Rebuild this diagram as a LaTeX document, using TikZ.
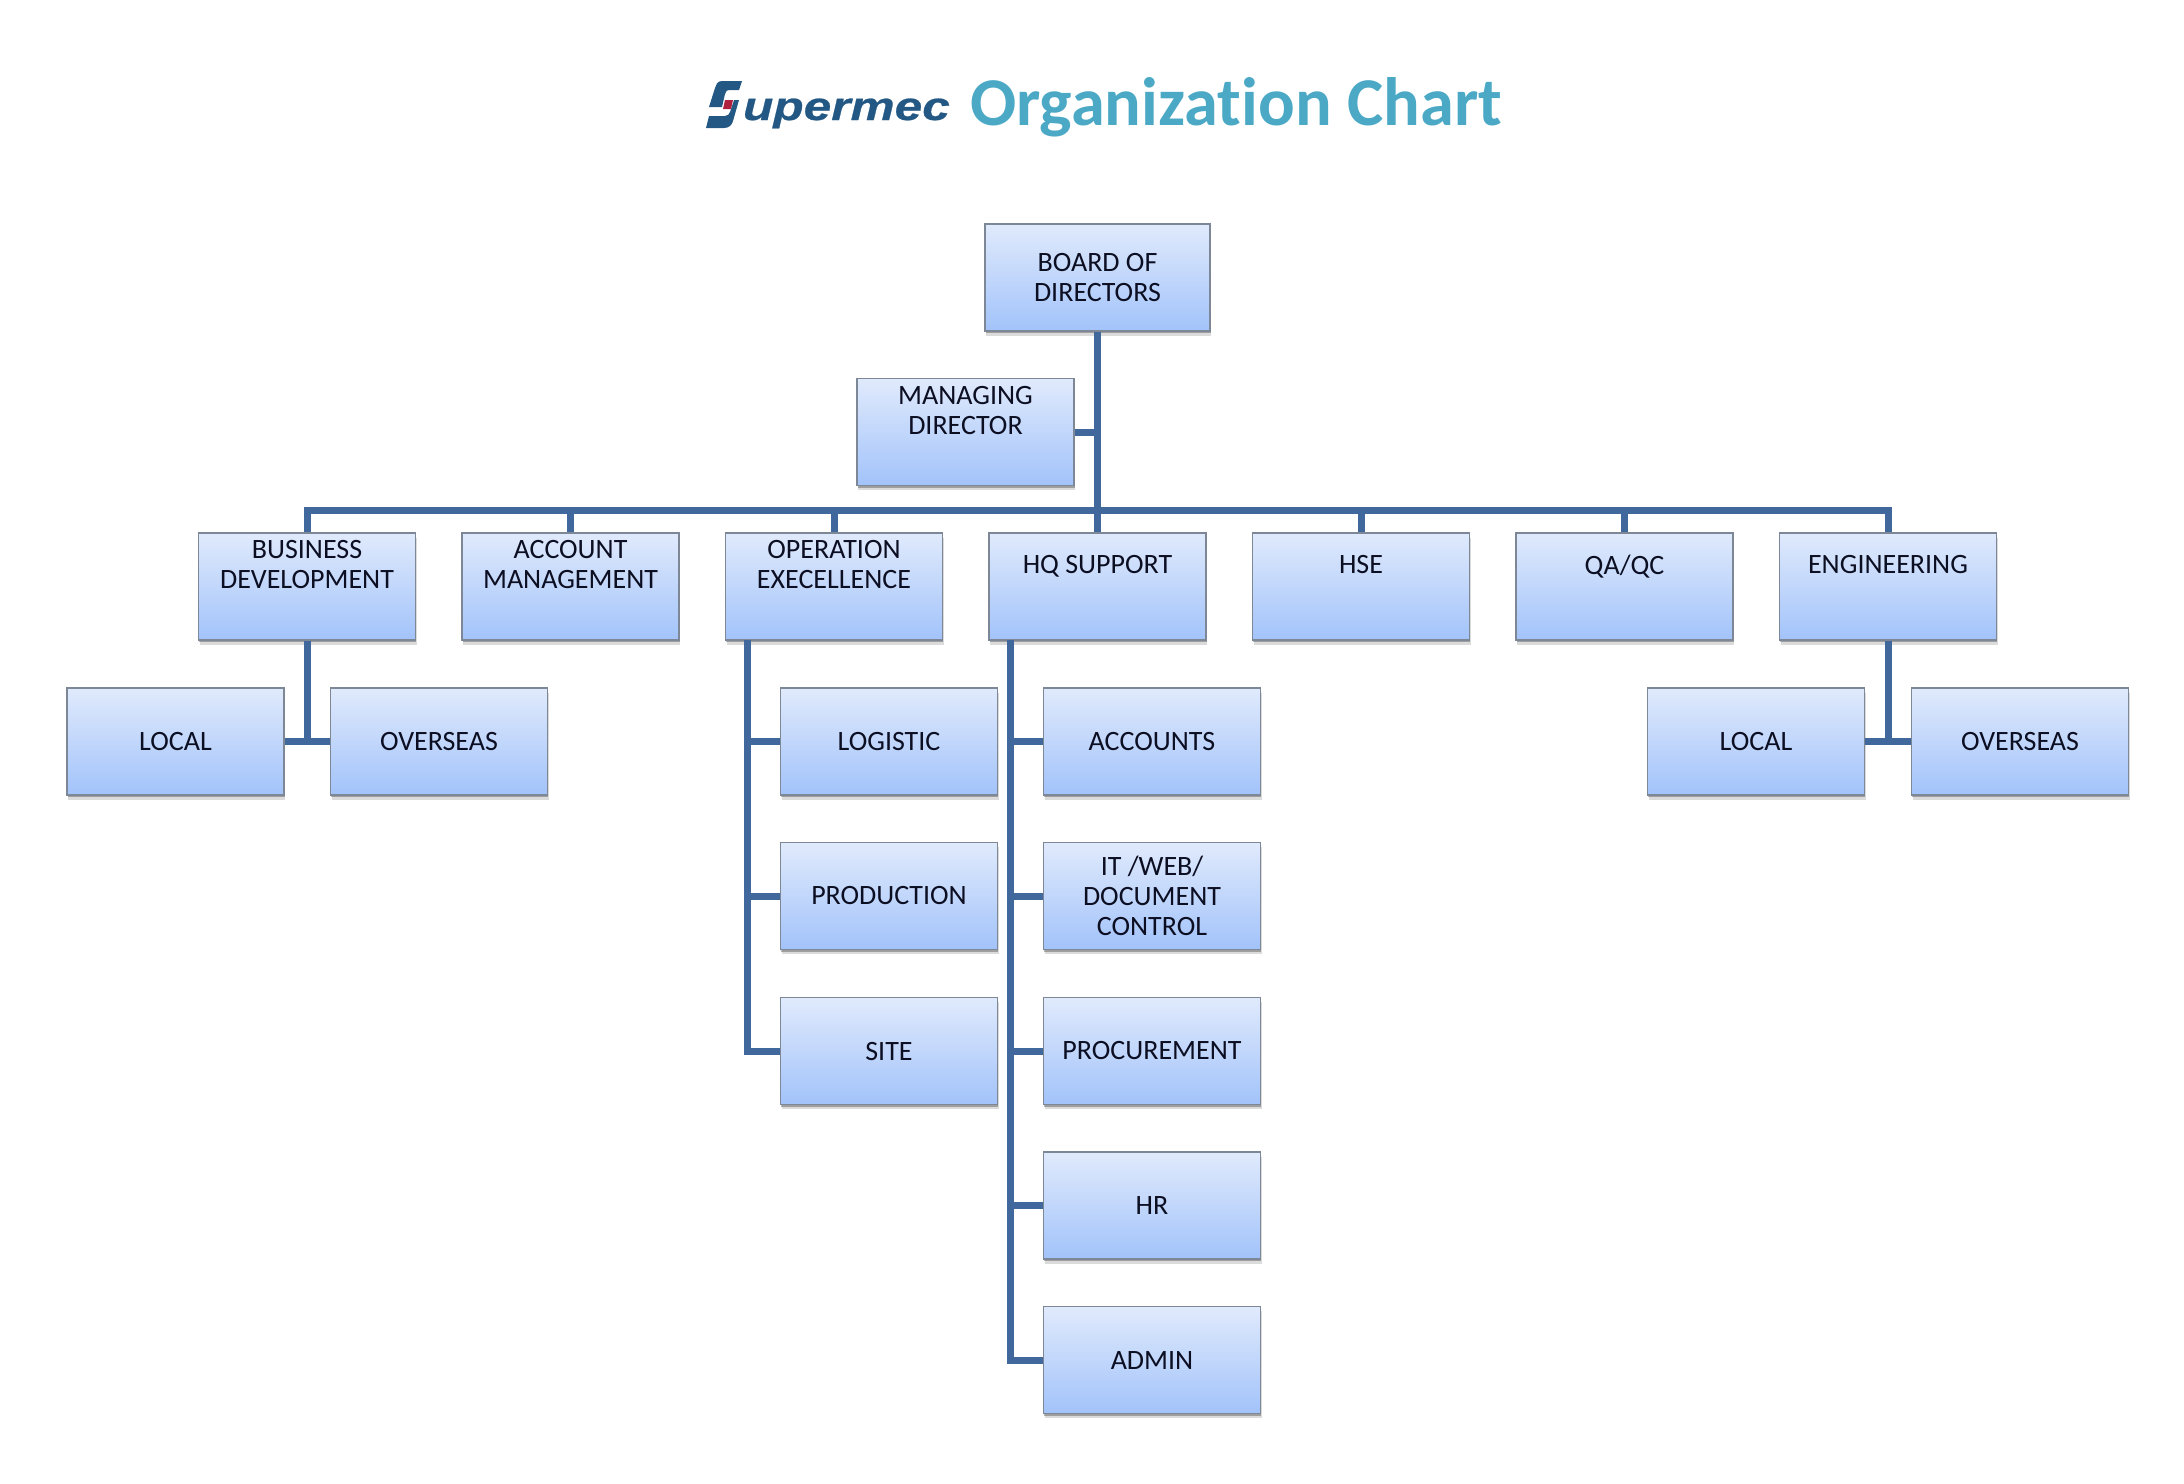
\documentclass[tikz,border=0pt]{standalone}
\usepackage{fontspec}
\setmainfont{Carlito}
\newfontfamily\logofont[FakeStretch=1.24,FakeBold=0.6]{Liberation Sans}
\usetikzlibrary{shadows}

\begin{document}
\begin{tikzpicture}[
    x=0.5pt, y=-0.5pt,
    every node/.style={font=\fontsize{14}{15}\selectfont, text=textdark},
    box/.style={
        rectangle,
        draw=edgegray,
        line width=0.6pt,
        top color=boxtop,
        bottom color=boxbottom,
        drop shadow={shadow xshift=0.5pt, shadow yshift=-2.4pt, opacity=0.14, fill=black},
        drop shadow={shadow xshift=0.3pt, shadow yshift=-1.2pt, opacity=0.28, fill=black},
        minimum width=108.5pt,
        minimum height=53.5pt,
        inner sep=0pt,
        align=center
    },
    link/.style={draw=linkblue, line width=3.5pt, line join=miter}
]

\definecolor{textdark}{RGB}{12, 14, 34}
\definecolor{edgegray}{RGB}{125, 135, 150}
\definecolor{boxtop}{RGB}{224, 234, 252}
\definecolor{boxbottom}{RGB}{162, 195, 250}
\definecolor{linkblue}{RGB}{65, 104, 156}
\definecolor{titleblue}{RGB}{75, 169, 197}
\definecolor{logoblue}{RGB}{36, 88, 132}
\definecolor{logored}{RGB}{176, 33, 63}

\useasboundingbox (0, 0) rectangle (2184, 1483);

% title and logo
\fill[logoblue] (742, 81) -- (722, 81) .. controls (717, 81) and (716, 85) .. (715, 88) -- (709, 107) -- (722, 107) -- (725, 94) .. controls (726, 91) and (727, 90) .. (729, 90) -- (739, 90) -- cycle;
\fill[logoblue] (739, 100) -- (733, 121) .. controls (732, 125) and (729, 128) .. (724, 128) -- (706, 128) -- (709, 116) -- (725, 116) .. controls (728, 116) and (729, 114) .. (730, 112) -- (734, 100) -- cycle;
\fill[logored] (725, 100) -- (733, 100) -- (731, 109) -- (723, 109) -- cycle;
\node[font=\logofont\fontsize{20}{22}\selectfont\bfseries\itshape, text=logoblue, anchor=base west] (logotext) at (736, 120) {upermec};
\node[font=\fontsize{34.2}{38}\selectfont\bfseries\addfontfeature{Ligatures=NoCommon}, text=titleblue, anchor=base west] (title) at (963, 125) {Organization Chart};

% top
\node[box, minimum width=112.5pt] (board) at (1097.5, 277.5) {BOARD OF\\DIRECTORS};
\node[box] (mandir) at (965.5, 432) {MANAGING\\DIRECTOR\\[7pt]\mbox{}};

% departments
\node[box] (bizdev) at (307, 586.5) {BUSINESS\\DEVELOPMENT\\[7pt]\mbox{}};
\node[box] (accmgmt) at (570.5, 586.5) {ACCOUNT\\MANAGEMENT\\[7pt]\mbox{}};
\node[box] (opex) at (834, 586.5) {OPERATION\\EXECELLENCE\\[7pt]\mbox{}};
\node[box] (hqsup) at (1097.5, 586.5) {HQ SUPPORT\\[7pt]\mbox{}};
\node[box] (hse) at (1361, 586.5) {HSE\\[7pt]\mbox{}};
\node[box] (qaqc) at (1624.5, 586.5) {QA/QC\\[7pt]\mbox{}};
\node[box] (eng) at (1888, 586.5) {ENGINEERING\\[7pt]\mbox{}};

% under business development
\node[box] (loca) at (175.5, 741.5) {LOCAL};
\node[box] (ovsa) at (439, 741.5) {OVERSEAS};

% under operation excellence
\node[box] (logistic) at (889, 741.5) {LOGISTIC};
\node[box] (production) at (889, 896) {PRODUCTION};
\node[box] (site) at (889, 1051) {SITE};

% under hq support
\node[box] (accounts) at (1152, 741.5) {ACCOUNTS};
\node[box] (itweb) at (1152, 896) {IT /WEB/\\DOCUMENT\\CONTROL};
\node[box] (procure) at (1152, 1051) {PROCUREMENT};
\node[box] (hr) at (1152, 1205.5) {HR};
\node[box] (admin) at (1152, 1360) {ADMIN};

% under engineering
\node[box] (locb) at (1756, 741.5) {LOCAL};
\node[box] (ovsb) at (2020, 741.5) {OVERSEAS};

% connectors
\coordinate (bus) at (1097.5, 510);
\coordinate (opextrunk) at (747, 640);
\coordinate (hqtrunk) at (1010, 640);

\draw[link] (board.south) -- (hqsup.north);
\draw[link] (mandir.east) -- (mandir.east -| board.south);
\draw[link] (bus) -| (bizdev.north);
\draw[link] (bus) -| (accmgmt.north);
\draw[link] (bus) -| (opex.north);
\draw[link] (bus) -| (hse.north);
\draw[link] (bus) -| (qaqc.north);
\draw[link] (bus) -| (eng.north);

\draw[link] (bizdev.south) |- (loca.east);
\draw[link] (bizdev.south) |- (ovsa.west);
\draw[link] (eng.south) |- (locb.east);
\draw[link] (eng.south) |- (ovsb.west);

\draw[link] (opextrunk) |- (logistic.west);
\draw[link] (opextrunk) |- (production.west);
\draw[link] (opextrunk) |- (site.west);

\draw[link] (hqtrunk) |- (accounts.west);
\draw[link] (hqtrunk) |- (itweb.west);
\draw[link] (hqtrunk) |- (procure.west);
\draw[link] (hqtrunk) |- (hr.west);
\draw[link] (hqtrunk) |- (admin.west);

\end{tikzpicture}
\end{document}
